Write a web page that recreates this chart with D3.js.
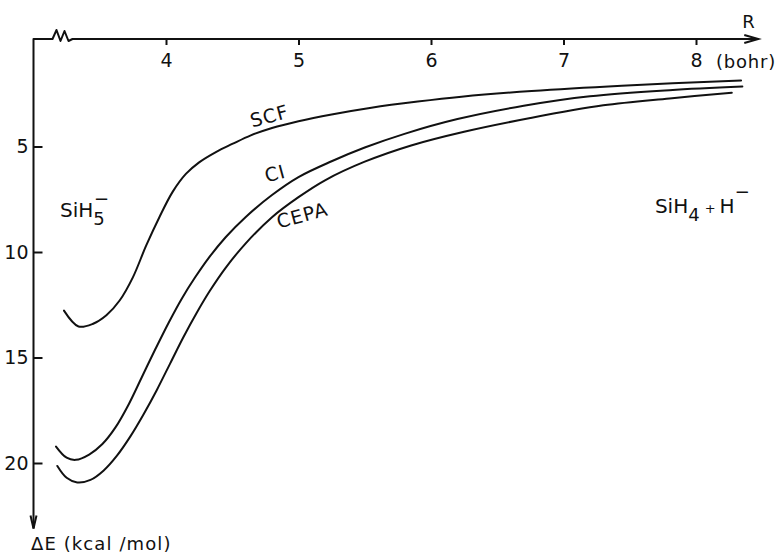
<!DOCTYPE html>
<html>
<head>
<meta charset="utf-8">
<script src="https://cdn.jsdelivr.net/npm/d3@7"></script>
<style>
  body { margin: 0; background: #fff; }
  text { font-family: "DejaVu Sans", sans-serif; fill: #111; }
</style>
</head>
<body>
<svg id="chart" width="776" height="553"></svg>
<script>
// tick values
const rTicks = [4, 5, 6, 7, 8];
const eTicks = [5, 10, 15, 20];

// potential curves, R in bohr, dE in kcal/mol
const scfR = [3.23, 3.34, 3.45, 3.55, 3.65, 3.75, 3.85, 3.95, 4.05, 4.15, 4.25, 4.38, 4.50, 4.64, 4.80, 5.00, 5.25, 5.55, 5.90, 6.23, 6.76, 7.44, 8.34];
const scfE = [12.78, 13.53, 13.40, 13.00, 12.30, 11.20, 9.70, 8.35, 7.15, 6.30, 5.75, 5.25, 4.88, 4.47, 4.12, 3.80, 3.48, 3.16, 2.87, 2.64, 2.37, 2.12, 1.87];

const ciR = [3.17, 3.25, 3.32, 3.42, 3.52, 3.62, 3.72, 3.82, 3.92, 4.02, 4.12, 4.22, 4.32, 4.45, 4.60, 4.80, 5.00, 5.25, 5.50, 5.80, 6.20, 6.70, 7.20, 7.80, 8.35];
const ciE = [19.22, 19.75, 19.85, 19.60, 19.10, 18.30, 17.20, 15.90, 14.60, 13.35, 12.20, 11.20, 10.30, 9.30, 8.35, 7.30, 6.45, 5.70, 5.05, 4.40, 3.70, 3.07, 2.62, 2.33, 2.16];

const cepaR = [3.18, 3.25, 3.33, 3.43, 3.53, 3.63, 3.73, 3.83, 3.93, 4.03, 4.13, 4.23, 4.33, 4.45, 4.60, 4.80, 5.00, 5.20, 5.50, 5.85, 6.25, 6.75, 7.30, 7.80, 8.27];
const cepaE = [20.14, 20.70, 20.92, 20.80, 20.35, 19.65, 18.75, 17.70, 16.55, 15.30, 14.05, 12.90, 11.85, 10.75, 9.60, 8.35, 7.40, 6.60, 5.72, 4.95, 4.30, 3.65, 3.05, 2.72, 2.45];

const curveNames = ["SCF", "CI", "CEPA"];
// label anchor points (R, dE)
const labelR = [4.65, 4.76, 4.85];
const labelE = [4.10, 6.71, 8.89];

const svg = d3.select("#chart");

const x = d3.scaleLinear().domain([4, 8]).range([166, 696]);
const y = d3.scaleLinear().domain([0, 20]).range([41, 463]);

const x0 = x(3);      // left axis position
const y0 = 39;        // top axis position
const xEnd = x(8.47); // arrow tip of R axis
const yEnd = y(23.1); // arrow tip of dE axis

// axis lines with the break on R
const frame = d3.path();
frame.moveTo(x0, yEnd);
frame.lineTo(x0, y0);
frame.lineTo(x0 + 19, y0);
frame.lineTo(x0 + 23, y0 - 9);
frame.lineTo(x0 + 27, y0 + 2);
frame.lineTo(x0 + 31, y0 - 8);
frame.lineTo(x0 + 35, y0 + 2);
frame.lineTo(x0 + 39, y0);
frame.lineTo(xEnd, y0);

svg.append("path")
  .attr("d", frame.toString())
  .attr("fill", "none")
  .attr("stroke", "#111")
  .attr("stroke-width", 2)
  .attr("stroke-linejoin", "round");

// arrow heads
svg.append("path")
  .attr("d", `M${xEnd - 14},${y0 - 4}L${xEnd},${y0}L${xEnd - 14},${y0 + 4}`)
  .attr("fill", "none").attr("stroke", "#111").attr("stroke-width", 2);
svg.append("path")
  .attr("d", `M${x0 - 3},${yEnd - 13}L${x0},${yEnd}L${x0 + 3},${yEnd - 13}`)
  .attr("fill", "none").attr("stroke", "#111").attr("stroke-width", 2);

// R axis (ticks point down into the plot)
const gx = svg.append("g")
  .attr("transform", `translate(0,${y0})`)
  .call(d3.axisBottom(x).tickValues(rTicks).tickSize(6).tickPadding(9).tickFormat(d3.format("d")));
gx.select(".domain").remove();
gx.selectAll("line").attr("stroke", "#111").attr("stroke-width", 2);
gx.selectAll("text").attr("font-size", 19).attr("font-family", "DejaVu Sans").attr("fill", "#111");

// dE axis (ticks point right into the plot)
const gy = svg.append("g")
  .attr("transform", `translate(${x0},0)`)
  .call(d3.axisLeft(y).tickValues(eTicks).tickSize(-9).tickPadding(5).tickFormat(d3.format("d")));
gy.select(".domain").remove();
gy.selectAll("line").attr("stroke", "#111").attr("stroke-width", 2);
gy.selectAll("text").attr("font-size", 19).attr("font-family", "DejaVu Sans").attr("fill", "#111");

// axis titles
svg.append("text").attr("x", xEnd - 16).attr("y", 28).attr("font-size", 18).text("R");
svg.append("text").attr("x", 716).attr("y", 68).attr("font-size", 18).attr("letter-spacing", 0.8).text("(bohr)");
svg.append("text").attr("x", 31).attr("y", 550).attr("font-size", 18).attr("letter-spacing", 1.1).text("\u0394E (kcal /mol)");

// curves
const line = d3.line()
  .x(d => x(d[0]))
  .y(d => y(d[1]))
  .curve(d3.curveCatmullRom.alpha(0.5));

const series = [
  d3.zip(scfR, scfE),
  d3.zip(ciR, ciE),
  d3.zip(cepaR, cepaE)
];

svg.selectAll("path.curve")
  .data(series)
  .enter()
  .append("path")
  .attr("class", "curve")
  .attr("d", line)
  .attr("fill", "none")
  .attr("stroke", "#111")
  .attr("stroke-width", 2)
  .attr("stroke-linecap", "round");

// curve labels
svg.selectAll("text.clabel")
  .data(curveNames)
  .enter()
  .append("text")
  .attr("class", "clabel")
  .attr("font-size", 19)
  .attr("letter-spacing", 1)
  .attr("transform", (d, i) => `translate(${x(labelR[i])},${y(labelE[i])}) rotate(-15)`)
  .text(d => d);

// species labels
const left = svg.append("text")
  .attr("x", x(3.2)).attr("y", y(8.34)).attr("font-size", 20);
left.append("tspan").text("SiH");
left.append("tspan").attr("dy", 8).attr("font-size", 18).text("5");
svg.append("text")
  .attr("x", x(3.2) + 34).attr("y", y(8.34) - 12).attr("font-size", 18)
  .text("\u2212");

const right = svg.append("text")
  .attr("x", x(7.69)).attr("y", y(8.15)).attr("font-size", 20);
right.append("tspan").text("SiH");
right.append("tspan").attr("dy", 8).attr("font-size", 18).text("4");
right.append("tspan").attr("dy", -8).attr("dx", 5).attr("font-size", 13).text("+");
right.append("tspan").attr("dx", 4).text("H");
right.append("tspan").attr("dy", -15).attr("font-size", 18).text("\u2212");
</script>
</body>
</html>
